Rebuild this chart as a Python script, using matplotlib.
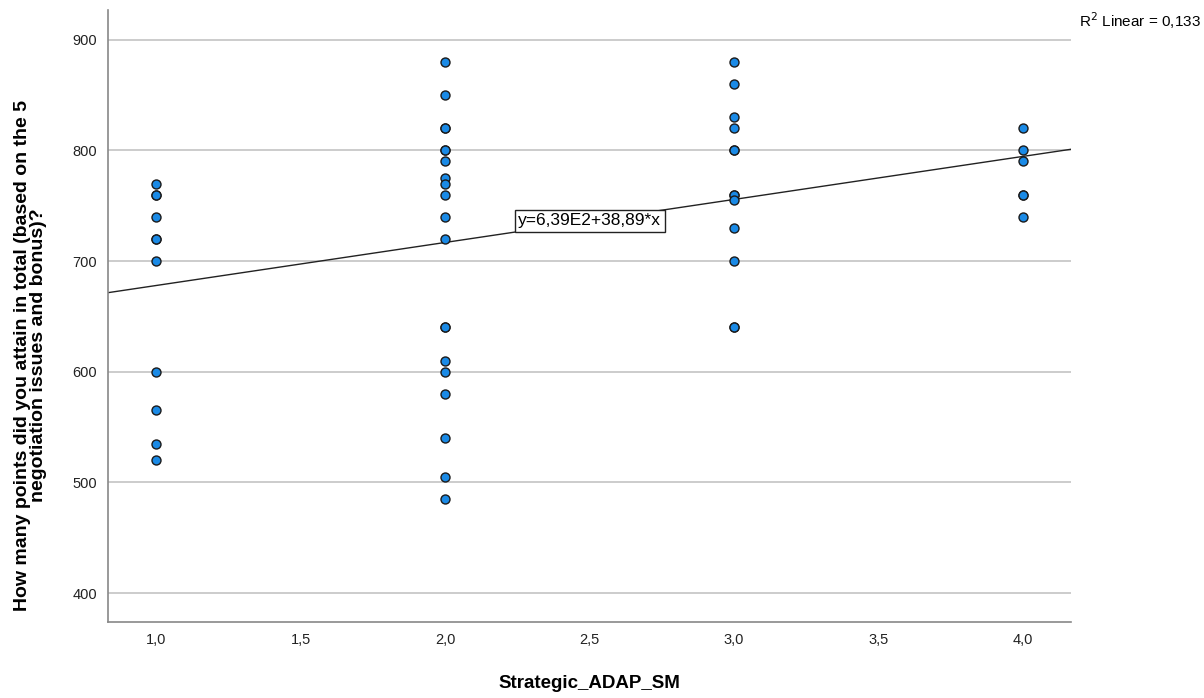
import matplotlib.pyplot as plt
import numpy as np

plt.rcParams['font.family'] = ['Liberation Sans', 'DejaVu Sans']

# Strategic_ADAP_SM groups and the points
group1 = [770, 760, 760, 740, 720, 720, 700, 600, 565, 535, 520]
group2 = [880, 850, 820, 820, 800, 800, 790, 775, 770, 760, 740, 720,
          640, 640, 610, 600, 580, 540, 505, 485]
group3 = [880, 860, 830, 820, 800, 800, 760, 760, 755, 730, 700, 640, 640]
group4 = [820, 800, 790, 760, 760, 740]
groups = [1.0, 2.0, 3.0, 4.0]

# fit line as reported
intercept = 639.0
slope = 38.89
fit_label = "y=6,39E2+38,89*x"
r2_label = "R$^2$ Linear = 0,133"

xticks = [1.0, 1.5, 2.0, 2.5, 3.0, 3.5, 4.0]
yticks = [400, 500, 600, 700, 800, 900]

fig = plt.figure(figsize=(12.04, 6.98), dpi=100)
ax = fig.add_axes([0.0897, 0.109, 0.80, 0.877])

xmin, xmax = 0.834, 4.166
ax.set_xlim(xmin, xmax)
ax.set_ylim(374, 927)

for yy in yticks:
    ax.axhline(yy, color='#c8c8c8', lw=1.3, zorder=0)

for g, vals in zip(groups, [group1, group2, group3, group4]):
    ax.scatter([g] * len(vals), vals, s=42, color='#1a8ae6',
               edgecolor='#1a1a1a', linewidth=1.0, zorder=3)

xl = np.array([xmin, xmax])
ax.plot(xl, intercept + slope * xl, color='#222222', lw=1.0, zorder=2)

xa = 2.5
ax.text(xa, intercept + slope * xa, fit_label, ha='center', va='center',
        fontsize=12.5, color='black', zorder=4,
        bbox=dict(boxstyle='square,pad=0.2', fc='white', ec='#222222', lw=1.0))

fig.text(0.997, 0.971, r2_label, ha='right', va='center', fontsize=11)

ax.set_xticks(xticks)
ax.set_xticklabels([f"{t:.1f}".replace('.', ',') for t in xticks])
ax.set_yticks(yticks)
ax.tick_params(length=0, labelsize=10.5, colors='#222222', pad=8)

for side in ['top', 'right']:
    ax.spines[side].set_visible(False)
for side in ['left', 'bottom']:
    ax.spines[side].set_color('#888888')
    ax.spines[side].set_linewidth(1.2)

ax.set_xlabel('Strategic_ADAP_SM', fontsize=13.5, fontweight='bold', labelpad=20)
ax.set_ylabel('How many points did you attain in total (based on the 5\n'
              'negotiation issues and bonus)?', fontsize=14, fontweight='bold',
              linespacing=0.95)
ax.yaxis.set_label_coords(-0.063, 0.435)

fig.savefig('out.png', dpi=100)
